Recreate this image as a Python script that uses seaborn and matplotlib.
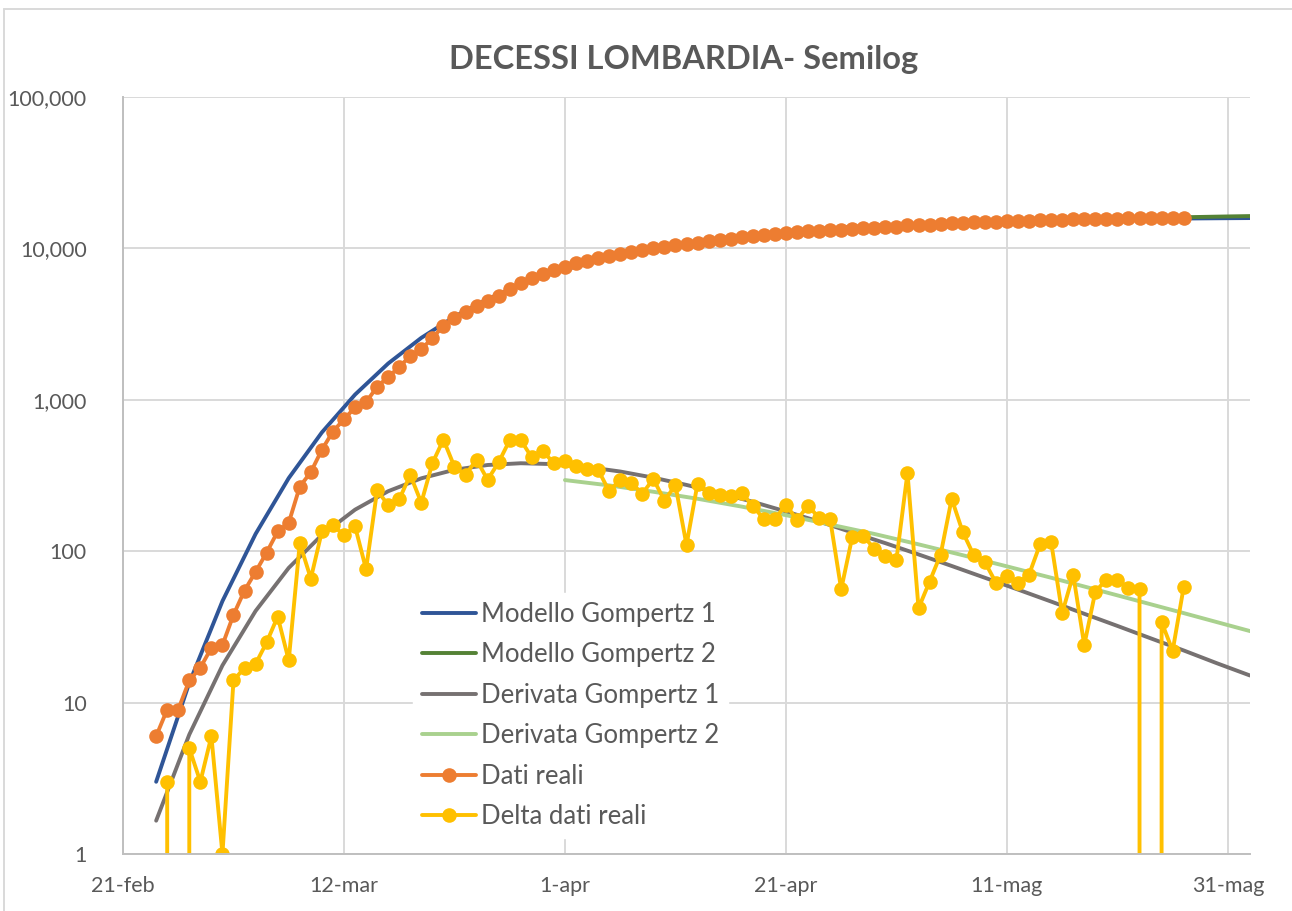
import numpy as np
import pandas as pd
import matplotlib
matplotlib.use("Agg")
import matplotlib.pyplot as plt
import seaborn as sns
from matplotlib.ticker import NullLocator
from matplotlib.lines import Line2D

# ---------------- data ----------------
title = "DECESSI LOMBARDIA- Semilog"

# cumulative deaths (24-feb .. 27-mag 2020)
real_start = "2020-02-24"
dati_reali = [6, 9, 9, 14, 17, 23, 24, 38, 55, 73, 98, 135, 154, 267, 333, 468, 617,
              744, 890, 966, 1218, 1420, 1640, 1959, 2168, 2549, 3095, 3456, 3776, 4178,
              4474, 4861, 5402, 5944, 6360, 6818, 7199, 7593, 7960, 8311, 8656, 8905,
              9202, 9484, 9724, 10024, 10240, 10513, 10623, 10903, 11144, 11379, 11610,
              11853, 12052, 12215, 12378, 12581, 12742, 12942, 13108, 13271, 13327,
              13451, 13577, 13681, 13774, 13862, 14191, 14233, 14296, 14391, 14613,
              14747, 14841, 14926, 14988, 15057, 15119, 15189, 15300, 15415, 15454,
              15524, 15548, 15602, 15667, 15732, 15789, 15845, 15845, 15879, 15901, 15959]

# daily new deaths (25-feb .. 27-mag 2020)
delta_start = "2020-02-25"
delta_dati_reali = [3, 0, 5, 3, 6, 1, 14, 17, 18, 25,
                    37, 19, 113, 66, 135, 149, 127, 146, 76, 252,
                    202, 220, 319, 209, 381, 546, 361, 320, 402, 296,
                    387, 541, 542, 416, 458, 381, 394, 367, 351, 345,
                    249, 297, 282, 240, 300, 216, 273, 110, 280, 241,
                    235, 231, 243, 199, 163, 163, 203, 161, 200, 166,
                    163, 56, 124, 126, 104, 93, 88, 329, 42, 63,
                    95, 222, 134, 94, 85, 62, 69, 62, 70, 111,
                    115, 39, 70, 24, 54, 65, 65, 57, 56, 0,
                    34, 22, 58]

# model 1 curves, read every 3 days from 24-feb
model1_start = "2020-02-24"
model1_step = "3D"
modello_gompertz_1 = [3.0, 13.5, 46.8, 130, 304, 609, 1082, 1737, 2566, 3542, 4617,
                      5748, 6888, 7995, 9039, 10001, 10872, 11647, 12329, 12919, 13427,
                      13862, 14231, 14542, 14804, 15023, 15206, 15359, 15487, 15593,
                      15681, 15754, 15814, 15864]
derivata_gompertz_1 = [1.66, 6.15, 17.6, 40.3, 77.6, 128, 188, 249, 303, 345, 371, 381,
                       376, 360, 336, 306, 274, 242, 212, 183, 157, 133, 113, 95.2, 79.9,
                       66.8, 55.8, 46.5, 38.6, 32.1, 26.6, 22.1, 18.2, 15.1]

# model 2 curves, read every 4 days from 1-apr
model2_start = "2020-04-01"
model2_step = "4D"
modello_gompertz_2 = [7600, 8880, 9980, 10900, 11700, 12400, 13000, 13550, 14050, 14500,
                      14900, 15250, 15560, 15830, 16060, 16260, 16440]
derivata_gompertz_2 = [295, 272, 247, 222, 197, 173, 150, 130, 111, 94.1, 79.4, 66.8,
                       55.9, 46.7, 39.0, 32.5, 27.1]

series_names = ["Modello Gompertz 1", "Modello Gompertz 2", "Derivata Gompertz 1",
                "Derivata Gompertz 2", "Dati reali", "Delta dati reali"]

x_start, x_end = "2020-02-21", "2020-06-02"
x_tick_dates = ["2020-02-21", "2020-03-12", "2020-04-01", "2020-04-21", "2020-05-11", "2020-05-31"]
x_tick_labels = ["21-feb", "12-mar", "1-apr", "21-apr", "11-mag", "31-mag"]
y_ticks = [1, 10, 100, 1000, 10000, 100000]
y_tick_labels = ["1", "10", "100", "1,000", "10,000", "100,000"]

# ---------------- styling ----------------
sns.set_theme(style="white")
plt.rcParams["font.family"] = ["Lato", "DejaVu Sans"]
TXT = "#595959"
GRID = "#D9D9D9"

colors = {
    "Modello Gompertz 1": "#2F5597",
    "Modello Gompertz 2": "#548235",
    "Derivata Gompertz 1": "#767171",
    "Derivata Gompertz 2": "#A9D18E",
    "Dati reali": "#ED7D31",
    "Delta dati reali": "#FFC000",
}

fig = plt.figure(figsize=(12.92, 9.11), dpi=100)
W, H = 1292, 911
ax = fig.add_axes([123 / W, 1 - 854 / H, (1250 - 123) / W, (854 - 97) / H])

d_real = pd.date_range(real_start, periods=len(dati_reali), freq="D")
d_delta = pd.date_range(delta_start, periods=len(delta_dati_reali), freq="D")
d_m1 = pd.date_range(model1_start, periods=len(modello_gompertz_1), freq=model1_step)
d_m2 = pd.date_range(model2_start, periods=len(modello_gompertz_2), freq=model2_step)

LW = 2.8
MS = 10.5
common = dict(ax=ax, errorbar=None, sort=False)

sns.lineplot(x=d_m1, y=modello_gompertz_1, color=colors[series_names[0]], lw=LW,
             label=series_names[0], **common)
sns.lineplot(x=d_m2, y=modello_gompertz_2, color=colors[series_names[1]], lw=LW,
             label=series_names[1], **common)
sns.lineplot(x=d_m1, y=derivata_gompertz_1, color=colors[series_names[2]], lw=LW,
             label=series_names[2], **common)
sns.lineplot(x=d_m2, y=derivata_gompertz_2, color=colors[series_names[3]], lw=LW,
             label=series_names[3], **common)
sns.lineplot(x=d_real, y=dati_reali, color=colors[series_names[4]], lw=LW,
             marker="o", markersize=MS, markeredgewidth=0,
             label=series_names[4], **common)
sns.lineplot(x=d_delta, y=delta_dati_reali, color=colors[series_names[5]], lw=LW,
             marker="o", markersize=MS, markeredgewidth=0,
             label=series_names[5], **common)

ax.set_yscale("log", nonpositive="clip")
ax.set_ylim(1, 100000)
ax.set_xlim(pd.Timestamp(x_start), pd.Timestamp(x_end))

ax.set_yticks(y_ticks)
ax.set_yticklabels(y_tick_labels)
ax.yaxis.set_minor_locator(NullLocator())
ax.set_xticks(pd.to_datetime(x_tick_dates))
ax.set_xticklabels(x_tick_labels)
ax.xaxis.set_minor_locator(NullLocator())

ax.tick_params(axis="y", length=0, pad=26, labelsize=15.5, labelcolor=TXT)
ax.tick_params(axis="x", length=0, pad=16, labelsize=15.5, labelcolor=TXT)
ax.grid(True, which="major", color=GRID, lw=1.4)
ax.set_axisbelow(True)
ax.set_xlabel("")
ax.set_ylabel("")
for s in ["top", "right"]:
    ax.spines[s].set_visible(False)
for s in ["left", "bottom"]:
    ax.spines[s].set_color("#BFBFBF")
    ax.spines[s].set_linewidth(1.4)

leg = ax.legend(loc="upper left", bbox_to_anchor=(413 / W, 1 - 593 / H),
                bbox_transform=fig.transFigure, frameon=True, fancybox=False,
                framealpha=1, edgecolor="white", facecolor="white",
                fontsize=18.5, handlelength=2.1, handletextpad=0.2,
                labelspacing=0.6, borderpad=0.35, borderaxespad=0)
for t in leg.get_texts():
    t.set_color(TXT)

fig.text(684 / W, 1 - 60 / H, title, ha="center", va="center",
         fontsize=23.5, fontweight="bold", color=TXT)

# chart area border
fig.add_artist(Line2D([4 / W, 1.0], [1 - 9 / H, 1 - 9 / H], transform=fig.transFigure,
                      color=GRID, lw=1.4))
fig.add_artist(Line2D([4 / W, 4 / W], [0, 1 - 9 / H], transform=fig.transFigure,
                      color=GRID, lw=1.4))

fig.savefig("out.png", dpi=100, facecolor="white")
